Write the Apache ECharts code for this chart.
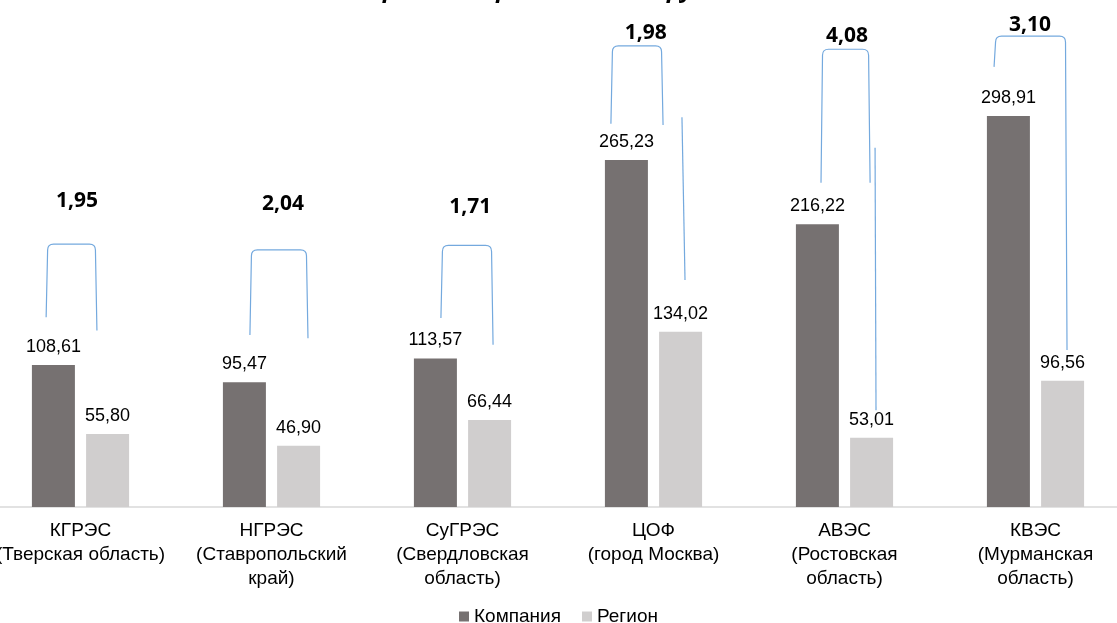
<!DOCTYPE html>
<html><head><meta charset="utf-8">
<script src="https://cdn.jsdelivr.net/npm/echarts@6/dist/echarts.min.js"></script>
<style>html,body{margin:0;padding:0;background:#fff;overflow:hidden}#c{width:1117px;height:623px}</style>
</head><body><div id="c"></div>
<script>
const categories = ['КГРЭС\n(Тверская область)', 'НГРЭС\n(Ставропольский\nкрай)', 'СуГРЭС\n(Свердловская\nобласть)', 'ЦОФ\n(город Москва)', 'АВЭС\n(Ростовская\nобласть)', 'КВЭС\n(Мурманская\nобласть)'];
const seriesNames = ['Компания', 'Регион'];
const company = [108.61, 95.47, 113.57, 265.23, 216.22, 298.91];
const region = [55.80, 46.90, 66.44, 134.02, 53.01, 96.56];
const ratios = [1.95, 2.04, 1.71, 1.98, 4.08, 3.10];
const titleText = 'Средняя зарплата, тыс. рублей';

// Annotation layout for the hand-drawn brackets (y in axis units, x as fraction of category band)
const bracketShapes = [
  {top: 201, l: 145, r: 135, lab: 234, lx: -0.18, rx: 0.086, tx: -0.018},
  {top: 196.6, l: 131.5, r: 129, lab: 232, lx: -0.113, rx: 0.191, tx: 0.06},
  {top: 200, l: 144.5, r: 124, lab: 229, lx: -0.113, rx: 0.16, tx: 0.04},
  {top: 352.6, l: 293, r: 292, lab: 362.5, lx: -0.223, rx: 0.05, tx: -0.04, ex: [0.149, 298, 0.165, 173.6]},
  {top: 350, l: 248, r: 248, lab: 360, lx: -0.123, rx: 0.134, tx: 0.013, ex: [0.16, 274.6, 0.165, 74]},
  {top: 360, l: 336.5, r: 120, lab: 368.6, lx: -0.217, rx: 0.165, tx: -0.029}
];

const fmt = v => v.toFixed(2).replace('.', ',');
const chart = echarts.init(document.getElementById('c'));
const lineColor = '#74a9de';

chart.setOption({
  animation: false,
  backgroundColor: '#fff',
  title: {
    text: titleText, left: 'center', top: -27,
    textStyle: {fontFamily: '"Noto Sans"', fontStyle: 'italic', fontWeight: 'bold', fontSize: 24, color: '#000'}
  },
  legend: {
    data: seriesNames, bottom: -8, left: 'center', icon: 'rect', itemWidth: 10, itemHeight: 10, itemGap: 21,
    textStyle: {fontFamily: '"Liberation Sans"', fontSize: 19, color: '#000'}
  },
  grid: {left: -15, right: -14, top: 10, bottom: 116, containLabel: false, outerBoundsMode: 'none'},
  xAxis: {
    type: 'category', data: categories,
    axisLine: {lineStyle: {color: '#d9d9d9', width: 1.5}},
    axisTick: {show: false},
    axisLabel: {interval: 0, fontFamily: '"Liberation Sans"', fontSize: 19, lineHeight: 24, color: '#000', margin: 12}
  },
  yAxis: {type: 'value', min: 0, max: 380, show: false, splitLine: {show: false}},
  series: [
    {
      name: seriesNames[0], type: 'bar', data: company, barWidth: 43, barGap: '26%',
      itemStyle: {color: '#767171'},
      label: {show: true, position: 'top', distance: 9, formatter: p => fmt(p.value), fontFamily: '"Liberation Sans"', fontSize: 18, color: '#000'}
    },
    {
      name: seriesNames[1], type: 'bar', data: region, barWidth: 43,
      itemStyle: {color: '#d0cece'},
      label: {show: true, position: 'top', distance: 9, formatter: p => fmt(p.value), fontFamily: '"Liberation Sans"', fontSize: 18, color: '#000'}
    },
    {
      type: 'custom', silent: true, clip: false, z: 10,
      data: ratios.map((r, i) => [i, r]),
      encode: {x: 0, y: -1},
      renderItem: function (params, api) {
        const i = params.dataIndex;
        const b = bracketShapes[i];
        const band = api.size([1, 0])[0];
        const cx = api.coord([i, 0])[0];
        const yT = api.coord([i, b.top])[1];
        const yL = api.coord([i, b.l])[1];
        const yR = api.coord([i, b.r])[1];
        const xL = cx + b.lx * band, xR = cx + b.rx * band;
        const rr = 6;
        const d = `M${xL} ${yL} L${xL + 1.5} ${yT + rr} Q${xL + 1.5} ${yT} ${xL + rr + 1.5} ${yT} L${xR - rr - 1.5} ${yT} Q${xR - 1.5} ${yT} ${xR - 1.5} ${yT + rr} L${xR} ${yR}`;
        const children = [
          {type: 'path', shape: {pathData: d}, style: {fill: null, stroke: lineColor, lineWidth: 1.2}}
        ];
        if (b.ex) {
          const p1 = [cx + b.ex[0] * band, api.coord([i, b.ex[1]])[1]];
          const p2 = [cx + b.ex[2] * band, api.coord([i, b.ex[3]])[1]];
          children.push({type: 'line', shape: {x1: p1[0], y1: p1[1], x2: p2[0], y2: p2[1]}, style: {stroke: lineColor, lineWidth: 1.2}});
        }
        children.push({
          type: 'text', x: cx + b.tx * band, y: api.coord([i, b.lab])[1],
          style: {text: fmt(api.value(1)), font: 'bold 21px "Noto Sans"', fill: '#000', align: 'center', verticalAlign: 'middle'}
        });
        return {type: 'group', children: children};
      }
    }
  ]
});
</script>
</body></html>
